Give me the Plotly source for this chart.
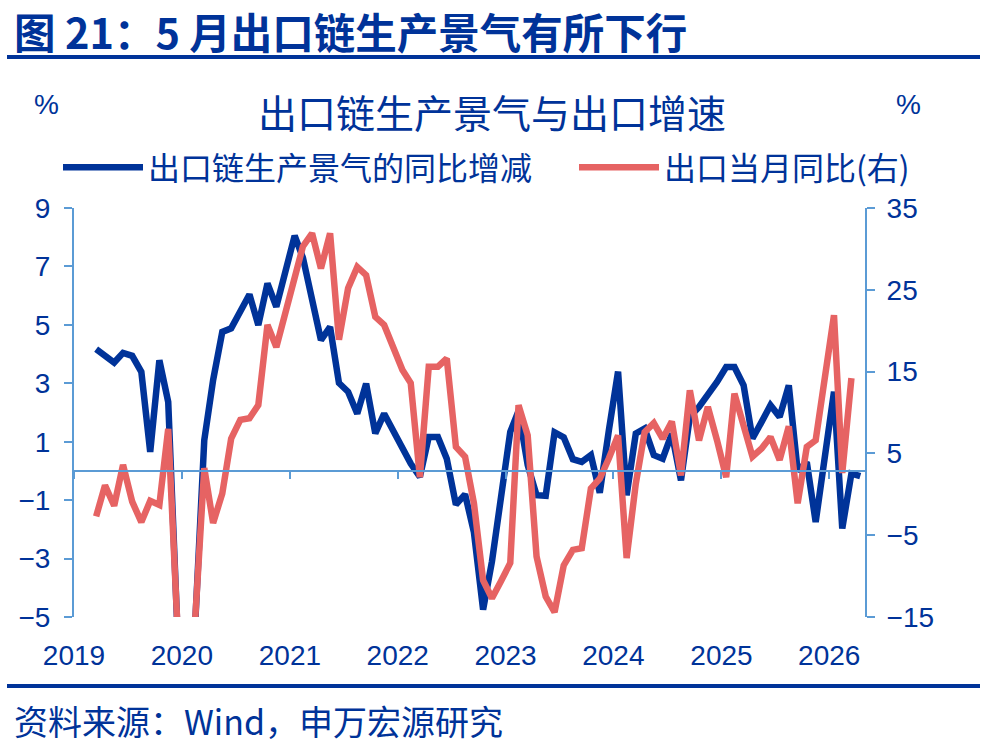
import plotly.graph_objects as go
import pandas as pd

# ---------------- data ----------------
months = pd.date_range("2019-04-01", "2026-05-01", freq="MS")

blue_name = "出口链生产景气的同比增减"
red_name = "出口当月同比(右)"

blue = [4.17, 3.96, 3.71, 4.04, 3.94, 3.39, 0.65, 3.79, 2.36,          # 2019-04..2019-12
        -5.4, -9.0, -5.3, 1.05, 3.11, 4.76, 4.88, 5.50, 6.04, 4.99, 6.42, 5.62,  # 2020
        6.90, 8.05, 7.30, 5.95, 4.48, 4.93, 3.01, 2.71, 1.96, 2.99, 1.28, 1.96,  # 2021
        1.39, 0.82, 0.25, -0.20, 1.16, 1.16, 0.42, -1.15, -0.80, -2.10, -4.75, -3.10,  # 2022
        -0.90, 1.34, 2.05, 0.20, -0.83, -0.85, 1.32, 1.15, 0.40, 0.31, 0.54, -0.75,  # 2023
        1.40, 3.40, -0.83, 1.28, 1.45, 0.54, 0.42, 1.28, -0.32, 1.85, 2.19, 2.59,  # 2024
        3.05, 3.56, 3.56, 2.93, 1.11, 1.68, 2.25, 1.85, 2.93, 0.00, 0.30, -1.75,  # 2025
        0.50, 2.71, -1.97, -0.09, -0.18]                                        # 2026

red = [-2.7, 1.1, -1.4, 3.6, -0.9, -3.4, -0.8, -1.3, 8.0,                # 2019-04..2019-12
       -16.0, -22.0, -15.5, 3.2, -3.5, 0.1, 6.8, 9.1, 9.3, 10.9, 20.7, 18.0,  # 2020
       22.1, 26.2, 30.3, 31.9, 27.6, 31.9, 18.9, 25.2, 27.8, 26.8, 21.7, 20.7,  # 2021
       17.8, 15.2, 13.6, 2.1, 15.6, 15.6, 16.6, 5.8, 4.6, -1.1, -10.5, -12.7,  # 2022
       -10.6, -8.4, 10.9, 7.2, -7.6, -12.5, -14.4, -8.7, -6.8, -6.6, 0.7, 1.9,  # 2023
       4.4, 7.2, -7.8, 1.3, 7.6, 8.7, 6.8, 8.9, 2.3, 12.7, 6.6, 10.7,  # 2024
       6.6, 2.1, 12.3, 8.7, 4.6, 5.6, 7.0, 4.2, 8.3, -1.1, 5.8, 6.6,  # 2025
       14.2, 21.9, 2.6, 14.2, None]                                   # 2026

years = ["2019", "2020", "2021", "2022", "2023", "2024", "2025", "2026"]
left_ticks = [-5, -3, -1, 1, 3, 5, 7, 9]
right_ticks = [-15, -5, 5, 15, 25, 35]

# ---------------- style ----------------
W, H = 982, 747
NAVY = "#003399"
RED = "#E66363"
AXIS = "#5B9BD5"
FONT = "Liberation Sans, Arial, Noto Sans CJK SC, sans-serif"
CJK = "Noto Sans CJK SC, Liberation Sans, sans-serif"

X0, X1, Y0, Y1 = 74, 865, 208, 617
dom_x = [X0 / W, X1 / W]
dom_y = [1 - Y1 / H, 1 - Y0 / H]
lrange = [left_ticks[0], left_ticks[-1]]
rrange = [right_ticks[0], right_ticks[-1]]
zero_pos = dom_y[0] + (0 - lrange[0]) / (lrange[1] - lrange[0]) * (dom_y[1] - dom_y[0])

tick_dates = [f"{y}-01-16" for y in years]
xrange = ["2019-01-16", "2026-05-17"]

fig = go.Figure()
fig.add_trace(go.Scatter(x=months, y=blue, name=blue_name, mode="lines",
                         line=dict(color=NAVY, width=6.5), yaxis="y", legend="legend"))
fig.add_trace(go.Scatter(x=months, y=red, name=red_name, mode="lines",
                         line=dict(color=RED, width=6.5), yaxis="y2", legend="legend2"))
# carrier trace for the zero-line x axis
fig.add_trace(go.Scatter(x=months[:1], y=[None], xaxis="x2", yaxis="y",
                         showlegend=False, hoverinfo="skip"))

legend_common = dict(orientation="h", yanchor="top", xanchor="left", y=1 - 140 / H,
                     font=dict(family=CJK, size=32, color=NAVY),
                     itemwidth=80, bgcolor="rgba(0,0,0,0)")

fig.update_layout(
    width=W, height=H,
    margin=dict(l=0, r=0, t=0, b=0, pad=0, autoexpand=False),
    paper_bgcolor="white", plot_bgcolor="white",
    showlegend=True,
    legend=dict(x=58 / W, **legend_common),
    legend2=dict(x=574 / W, **legend_common),
    xaxis=dict(type="date", domain=dom_x, range=xrange, tickvals=tick_dates, ticktext=years,
               showline=False, showgrid=False, zeroline=False, automargin=False,
               ticks="outside", ticklen=13, tickcolor="rgba(0,0,0,0)",
               tickfont=dict(family=FONT, size=28, color=NAVY), anchor="y"),
    xaxis2=dict(type="date", domain=dom_x, range=xrange, tickvals=tick_dates,
                overlaying="x", matches="x", anchor="free", position=zero_pos,
                showline=True, linecolor=AXIS, linewidth=2, automargin=False,
                ticks="outside", ticklen=7, tickwidth=2, tickcolor=AXIS,
                showticklabels=False, showgrid=False, zeroline=False),
    yaxis=dict(domain=dom_y, range=lrange, tickvals=left_ticks,
               showline=True, linecolor=AXIS, linewidth=2, automargin=False,
               ticks="outside", ticklen=8, tickwidth=2, tickcolor=AXIS,
               showgrid=False, zeroline=False, ticklabelstandoff=8,
               tickfont=dict(family=FONT, size=28, color=NAVY), anchor="x"),
    yaxis2=dict(domain=dom_y, range=rrange, tickvals=right_ticks, overlaying="y", side="right",
                showline=True, linecolor=AXIS, linewidth=2, automargin=False,
                ticks="outside", ticklen=8, tickwidth=2, tickcolor=AXIS,
                showgrid=False, zeroline=False, ticklabelstandoff=6,
                tickfont=dict(family=FONT, size=28, color=NAVY), anchor="x"),
)

ann = [
    dict(text="<b>图 21：5 月出口链生产景气有所下行</b>", x=12 / W, y=1 - 31 / H,
         xanchor="left", yanchor="middle", font=dict(family=CJK, size=41.5, color=NAVY)),
    dict(text="出口链生产景气与出口增速", x=492 / W, y=1 - 111 / H,
         xanchor="center", yanchor="middle", font=dict(family=CJK, size=39, color=NAVY)),
    dict(text="%", x=46 / W, y=1 - 105 / H, xanchor="center", yanchor="middle",
         font=dict(family=FONT, size=28, color=NAVY)),
    dict(text="%", x=908 / W, y=1 - 105 / H, xanchor="center", yanchor="middle",
         font=dict(family=FONT, size=28, color=NAVY)),
    dict(text="资料来源：Wind，申万宏源研究", x=12 / W, y=1 - 720 / H,
         xanchor="left", yanchor="middle", font=dict(family=CJK, size=34, color=NAVY)),
]
for a in ann:
    a.update(xref="paper", yref="paper", showarrow=False)
fig.update_layout(annotations=ann)

fig.update_layout(shapes=[
    dict(type="line", xref="paper", yref="paper", x0=7 / W, x1=980 / W,
         y0=1 - 57 / H, y1=1 - 57 / H, line=dict(color=NAVY, width=4)),
    dict(type="line", xref="paper", yref="paper", x0=7 / W, x1=980 / W,
         y0=1 - 686 / H, y1=1 - 686 / H, line=dict(color=NAVY, width=4)),
])

fig.write_html("out.html")
